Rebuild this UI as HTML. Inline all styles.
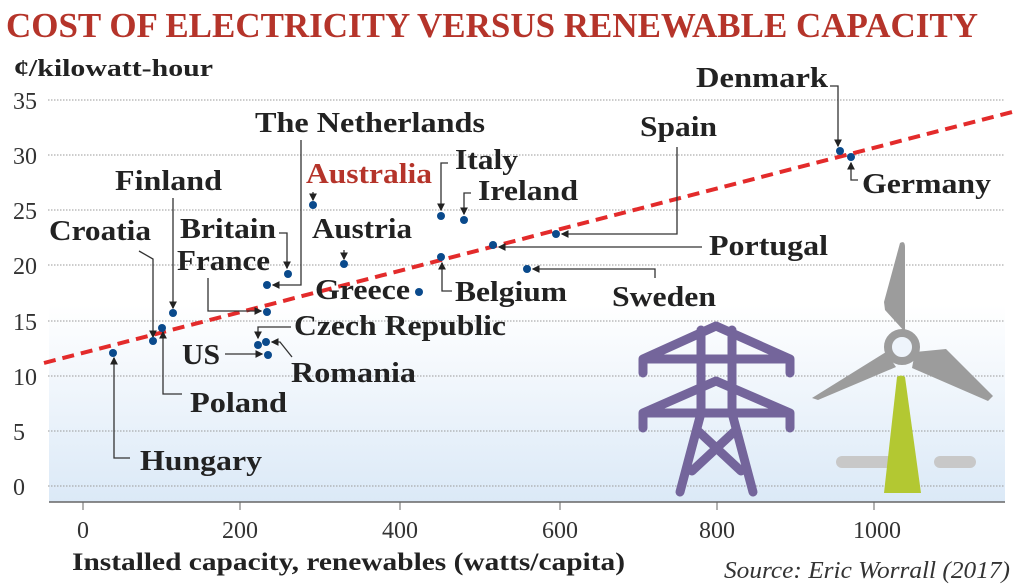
<!DOCTYPE html>
<html><head><meta charset="utf-8"><style>
body{margin:0;background:#fff}
svg{display:block}
text{font-family:"Liberation Serif",serif}
.l{font-size:28px;font-weight:bold;fill:#222}
.t{font-size:24px;fill:#333}
</style></head><body>
<svg width="1024" height="588" viewBox="0 0 1024 588" xmlns="http://www.w3.org/2000/svg">
<defs>
<linearGradient id="bg" x1="0" y1="0" x2="0" y2="1">
<stop offset="0" stop-color="#fff"/><stop offset="1" stop-color="#dbe9f7"/>
</linearGradient>
<marker id="a" markerWidth="6" markerHeight="6" refX="5" refY="3" orient="auto"><path d="M0,0L6,3L0,6z" fill="#222"/></marker>
</defs>
<rect x="49" y="305" width="956" height="197" fill="url(#bg)"/>
<line x1="49" y1="502" x2="1005" y2="502" stroke="#666" stroke-width="1.5"/>
<g stroke="#999" stroke-width="1" stroke-dasharray="1.5,1.5">
<line x1="48" y1="100" x2="1005" y2="100"/><line x1="48" y1="155" x2="1005" y2="155"/>
<line x1="48" y1="210" x2="1005" y2="210"/><line x1="48" y1="265" x2="1005" y2="265"/>
<line x1="48" y1="321" x2="1005" y2="321"/><line x1="48" y1="376" x2="1005" y2="376"/>
<line x1="48" y1="431" x2="1005" y2="431"/><line x1="48" y1="486" x2="1005" y2="486"/>
</g>
<text x="6" y="37" textLength="972" lengthAdjust="spacingAndGlyphs" style="font-size:35px;font-weight:bold;fill:#b5342a">COST OF ELECTRICITY VERSUS RENEWABLE CAPACITY</text>
<text x="14" y="76" textLength="199" lengthAdjust="spacingAndGlyphs" style="font-size:24px;font-weight:bold;fill:#222">¢/kilowatt-hour</text>
<g class="t" text-anchor="start">
<text x="13" y="109">35</text><text x="13" y="164">30</text><text x="13" y="219">25</text><text x="13" y="274">20</text><text x="13" y="330">15</text><text x="13" y="385">10</text><text x="13" y="440">5</text><text x="13" y="495">0</text>
</g>
<g class="t" text-anchor="middle">
<text x="83" y="538">0</text><text x="240" y="538">200</text><text x="400" y="538">400</text><text x="560" y="538">600</text><text x="717" y="538">800</text><text x="877" y="538">1000</text>
</g>
<g stroke="#666"><line x1="83" y1="502" x2="83" y2="510"/><line x1="240" y1="502" x2="240" y2="510"/><line x1="400" y1="502" x2="400" y2="510"/><line x1="560" y1="502" x2="560" y2="510"/><line x1="717" y1="502" x2="717" y2="510"/><line x1="874" y1="502" x2="874" y2="510"/></g>
<text x="72" y="570" textLength="553" lengthAdjust="spacingAndGlyphs" style="font-size:25px;font-weight:bold;fill:#222">Installed capacity, renewables (watts/capita)</text>
<text x="724" y="578" textLength="286" lengthAdjust="spacingAndGlyphs" style="font-size:24px;font-style:italic;fill:#333">Source: Eric Worrall (2017)</text>
<!-- icons -->
<g fill="none" stroke="#74659b" stroke-width="9" stroke-linecap="round" stroke-linejoin="round">
<path d="M643,373 V359 L716,326 L790,359 V373 M643,359 H790"/>
<path d="M643,428 V413 L716,381 L790,413 V428 M643,413 H790"/>
<path d="M701,330 V413 M732,330 V413"/>
<path d="M701,413 L680,492 M732,413 L753,492 M697,430 L741,471 M736,430 L692,471"/>
</g>
<g stroke="#c8c8c8" stroke-width="12" stroke-linecap="round"><line x1="842" y1="462" x2="890" y2="462"/><line x1="940" y1="462" x2="970" y2="462"/></g>
<path d="M897,377 Q901,374 905,377 L921,493 H884 Z" fill="#b3c832"/>
<g fill="#9c9c9c">
<path d="M900,243 Q905,240 905,247 L905,332 L885,310 L884,302 Z"/>
<path d="M812,398 L886,352 L896,367 L818,400 Z"/>
<path d="M915,352 L946,349 L993,396 L988,401 L912,368 Z"/>
</g>
<circle cx="902" cy="347" r="14" fill="#eef4fb" stroke="#9c9c9c" stroke-width="8"/>
<!-- trend -->
<line x1="44" y1="363" x2="1012" y2="112" stroke="#e32b2b" stroke-width="4" stroke-dasharray="12,7"/>
<!-- leaders -->
<g fill="none" stroke="#333" stroke-width="1.3">
<path d="M130,458 H114 V358" marker-end="url(#a)"/>
<path d="M182,394 H163 V332" marker-end="url(#a)"/>
<path d="M139,251 L153,259 V337" marker-end="url(#a)"/>
<path d="M173,198 V308" marker-end="url(#a)"/>
<path d="M208,278 V311 H261" marker-end="url(#a)"/>
<path d="M279,233 H287 V268" marker-end="url(#a)"/>
<path d="M301,140 V285 H273" marker-end="url(#a)"/>
<path d="M291,327 H258 V338" marker-end="url(#a)"/>
<path d="M225,354 H262" marker-end="url(#a)"/>
<path d="M292,357 L280,342 H272" marker-end="url(#a)"/>
<path d="M313,192 V200" marker-end="url(#a)"/>
<path d="M344,250 V259" marker-end="url(#a)"/>
<path d="M448,163 H441 V210" marker-end="url(#a)"/>
<path d="M471,193 H464 V214" marker-end="url(#a)"/>
<path d="M452,291 H442 V263" marker-end="url(#a)"/>
<path d="M702,247 H499" marker-end="url(#a)"/>
<path d="M677,147 V234 H562" marker-end="url(#a)"/>
<path d="M655,278 V269 H533" marker-end="url(#a)"/>
<path d="M830,86 H838 V146" marker-end="url(#a)"/>
<path d="M858,180 H851 V163" marker-end="url(#a)"/>
</g>
<!-- dots -->
<g fill="#0a4a8c">
<circle cx="113" cy="353" r="4"/><circle cx="153" cy="341" r="4"/><circle cx="162" cy="328" r="4"/><circle cx="173" cy="313" r="4"/>
<circle cx="267" cy="312" r="4"/><circle cx="258" cy="345" r="4"/><circle cx="266" cy="342" r="4"/><circle cx="268" cy="355" r="4"/>
<circle cx="288" cy="274" r="4"/><circle cx="267" cy="285" r="4"/><circle cx="313" cy="205" r="4"/><circle cx="344" cy="264" r="4"/>
<circle cx="419" cy="292" r="4"/><circle cx="441" cy="216" r="4"/><circle cx="464" cy="220" r="4"/><circle cx="441" cy="257" r="4"/>
<circle cx="493" cy="245" r="4"/><circle cx="556" cy="234" r="4"/><circle cx="527" cy="269" r="4"/><circle cx="840" cy="151" r="4"/><circle cx="851" cy="157" r="4"/>
</g>
<!-- labels -->
<g class="l" lengthAdjust="spacingAndGlyphs">
<text x="140" y="470" textLength="122" lengthAdjust="spacingAndGlyphs">Hungary</text>
<text x="190" y="412" textLength="97" lengthAdjust="spacingAndGlyphs">Poland</text>
<text x="49" y="240" textLength="102" lengthAdjust="spacingAndGlyphs">Croatia</text>
<text x="115" y="190" textLength="107" lengthAdjust="spacingAndGlyphs">Finland</text>
<text x="180" y="238" textLength="96" lengthAdjust="spacingAndGlyphs">Britain</text>
<text x="177" y="270" textLength="93" lengthAdjust="spacingAndGlyphs">France</text>
<text x="255" y="132" textLength="230" lengthAdjust="spacingAndGlyphs">The Netherlands</text>
<text x="306" y="183" textLength="126" lengthAdjust="spacingAndGlyphs" style="fill:#b5342a">Australia</text>
<text x="312" y="238" textLength="100" lengthAdjust="spacingAndGlyphs">Austria</text>
<text x="315" y="299" textLength="95" lengthAdjust="spacingAndGlyphs">Greece</text>
<text x="294" y="335" textLength="212" lengthAdjust="spacingAndGlyphs">Czech Republic</text>
<text x="182" y="364" textLength="38" lengthAdjust="spacingAndGlyphs">US</text>
<text x="291" y="382" textLength="125" lengthAdjust="spacingAndGlyphs">Romania</text>
<text x="455" y="169" textLength="63" lengthAdjust="spacingAndGlyphs">Italy</text>
<text x="478" y="200" textLength="100" lengthAdjust="spacingAndGlyphs">Ireland</text>
<text x="455" y="301" textLength="112" lengthAdjust="spacingAndGlyphs">Belgium</text>
<text x="709" y="255" textLength="119" lengthAdjust="spacingAndGlyphs">Portugal</text>
<text x="640" y="136" textLength="77" lengthAdjust="spacingAndGlyphs">Spain</text>
<text x="612" y="306" textLength="104" lengthAdjust="spacingAndGlyphs">Sweden</text>
<text x="696" y="87" textLength="132" lengthAdjust="spacingAndGlyphs">Denmark</text>
<text x="862" y="193" textLength="129" lengthAdjust="spacingAndGlyphs">Germany</text>
</g>
</svg>
</body></html>
